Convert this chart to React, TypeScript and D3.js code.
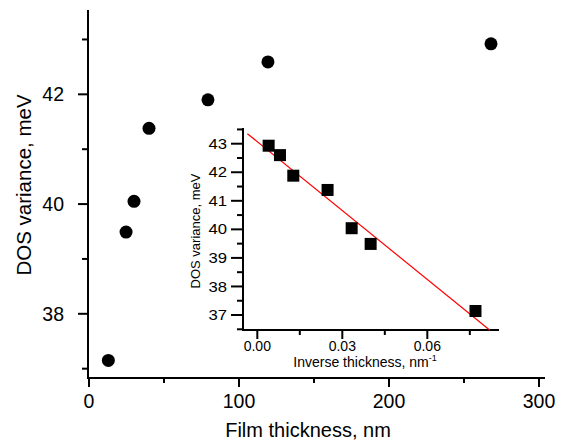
import React from "react";
import * as d3 from "d3";

const thickness = [268, 119.3, 79.3, 40, 30, 24.7, 12.9];
const dosVariance = [42.92, 42.59, 41.9, 41.38, 40.05, 39.49, 37.15];
const inverseThickness = [0.004, 0.008, 0.0127, 0.0248, 0.0333, 0.04, 0.077];
const insetDos = [42.93, 42.6, 41.88, 41.38, 40.04, 39.49, 37.14];
const fitIntercept = 43.07;
const fitSlope = -80.4;
const fitRange = [-0.0035, 0.0821];

const mainXTicks = [0, 100, 200, 300];
const mainXMinor = [50, 150, 250];
const mainYTicks = [38, 40, 42];
const mainYMinor = [37, 39, 41, 43];
const insetXTicks = [0, 0.03, 0.06];
const insetXMinor = [0.015, 0.045, 0.075];
const insetYTicks = [37, 38, 39, 40, 41, 42, 43];
const insetYMinor = [36.5, 37.5, 38.5, 39.5, 40.5, 41.5, 42.5, 43.5];

const FONT = "'Liberation Sans', Arial, sans-serif";

export default function App() {
  const x = d3.scale ? null : null;
  const xMain = d3.scaleLinear().domain([-0.67, 304]).range([88, 545]);
  const yMain = d3.scaleLinear().domain([36.83, 43.537]).range([378, 10]);
  const xIn = d3.scaleLinear().domain([-0.00505, 0.0853]).range([243, 499]);
  const yIn = d3.scaleLinear().domain([36.475, 43.55]).range([330, 128]);

  const fitLine = d3
    .line<number>()
    .x((d) => xIn(d))
    .y((d) => yIn(fitIntercept + fitSlope * d));

  return (
    <svg
      width={562}
      height={443}
      style={{ position: "absolute", left: 0, top: 0, background: "#fff" }}
      fontFamily={FONT}
    >
      <rect width={562} height={443} fill="#fff" />
      {/* Main axes */}
      <line x1={88} x2={88} y1={10} y2={379} stroke="#000" strokeWidth={2} />
      <line x1={87} x2={545} y1={378} y2={378} stroke="#000" strokeWidth={2} />
      {mainXTicks.map((t) => (
        <g key={"mx" + t}>
          <line x1={xMain(t)} x2={xMain(t)} y1={378} y2={387} stroke="#000" strokeWidth={2} />
          <text x={xMain(t)} y={408} fontSize={19.5} textAnchor="middle">
            {t}
          </text>
        </g>
      ))}
      {mainXMinor.map((t) => (
        <line key={"mxm" + t} x1={xMain(t)} x2={xMain(t)} y1={378} y2={383} stroke="#000" strokeWidth={2} />
      ))}
      {mainYTicks.map((t) => (
        <g key={"my" + t}>
          <line x1={78} x2={88} y1={yMain(t)} y2={yMain(t)} stroke="#000" strokeWidth={2} />
          <text x={64} y={yMain(t)} dy="0.35em" fontSize={19.5} textAnchor="end">
            {t}
          </text>
        </g>
      ))}
      {mainYMinor.map((t) => (
        <line key={"mym" + t} x1={82} x2={88} y1={yMain(t)} y2={yMain(t)} stroke="#000" strokeWidth={2} />
      ))}
      <text x={308} y={437} fontSize={20} textAnchor="middle">
        Film thickness, nm
      </text>
      <text
        transform="translate(31,185) rotate(-90)"
        fontSize={20.5}
        textAnchor="middle"
      >
        DOS variance, meV
      </text>
      {thickness.map((t, i) => (
        <circle key={"c" + i} cx={xMain(t)} cy={yMain(dosVariance[i])} r={6.5} fill="#000" />
      ))}

      {/* Inset */}
      <line x1={243} x2={243} y1={128} y2={331} stroke="#000" strokeWidth={2} />
      <line x1={242} x2={499} y1={330} y2={330} stroke="#000" strokeWidth={2} />
      {insetXTicks.map((t) => (
        <g key={"ix" + t}>
          <line x1={xIn(t)} x2={xIn(t)} y1={330} y2={339} stroke="#000" strokeWidth={2} />
          <text x={xIn(t)} y={351} fontSize={14} textAnchor="middle">
            {d3.format(".2f")(t)}
          </text>
        </g>
      ))}
      {insetXMinor.map((t) => (
        <line key={"ixm" + t} x1={xIn(t)} x2={xIn(t)} y1={330} y2={335} stroke="#000" strokeWidth={2} />
      ))}
      {insetYTicks.map((t) => (
        <g key={"iy" + t}>
          <line x1={231} x2={243} y1={yIn(t)} y2={yIn(t)} stroke="#000" strokeWidth={2} />
          <text
            x={227}
            y={yIn(t)}
            dy="0.35em"
            fontSize={14.5}
            textAnchor="end"
            transform={`translate(${227 * -0.15},0) scale(1.15,1)`}
          >
            {t}
          </text>
        </g>
      ))}
      {insetYMinor.map((t) => (
        <line key={"iym" + t} x1={237} x2={243} y1={yIn(t)} y2={yIn(t)} stroke="#000" strokeWidth={2} />
      ))}
      <path d={fitLine(fitRange) || ""} fill="none" stroke="#ff0000" strokeWidth={1.2} />
      {inverseThickness.map((v, i) => (
        <rect
          key={"s" + i}
          x={xIn(v) - 6}
          y={yIn(insetDos[i]) - 6}
          width={12}
          height={12}
          fill="#000"
        />
      ))}
      <text x={365} y={367} fontSize={14} textAnchor="middle">
        Inverse thickness, nm
        <tspan fontSize={9} dy={-6}>
          -1
        </tspan>
      </text>
      <text transform="translate(199.5,231) rotate(-90)" fontSize={13} textAnchor="middle">
        DOS variance, meV
      </text>
    </svg>
  );
}
